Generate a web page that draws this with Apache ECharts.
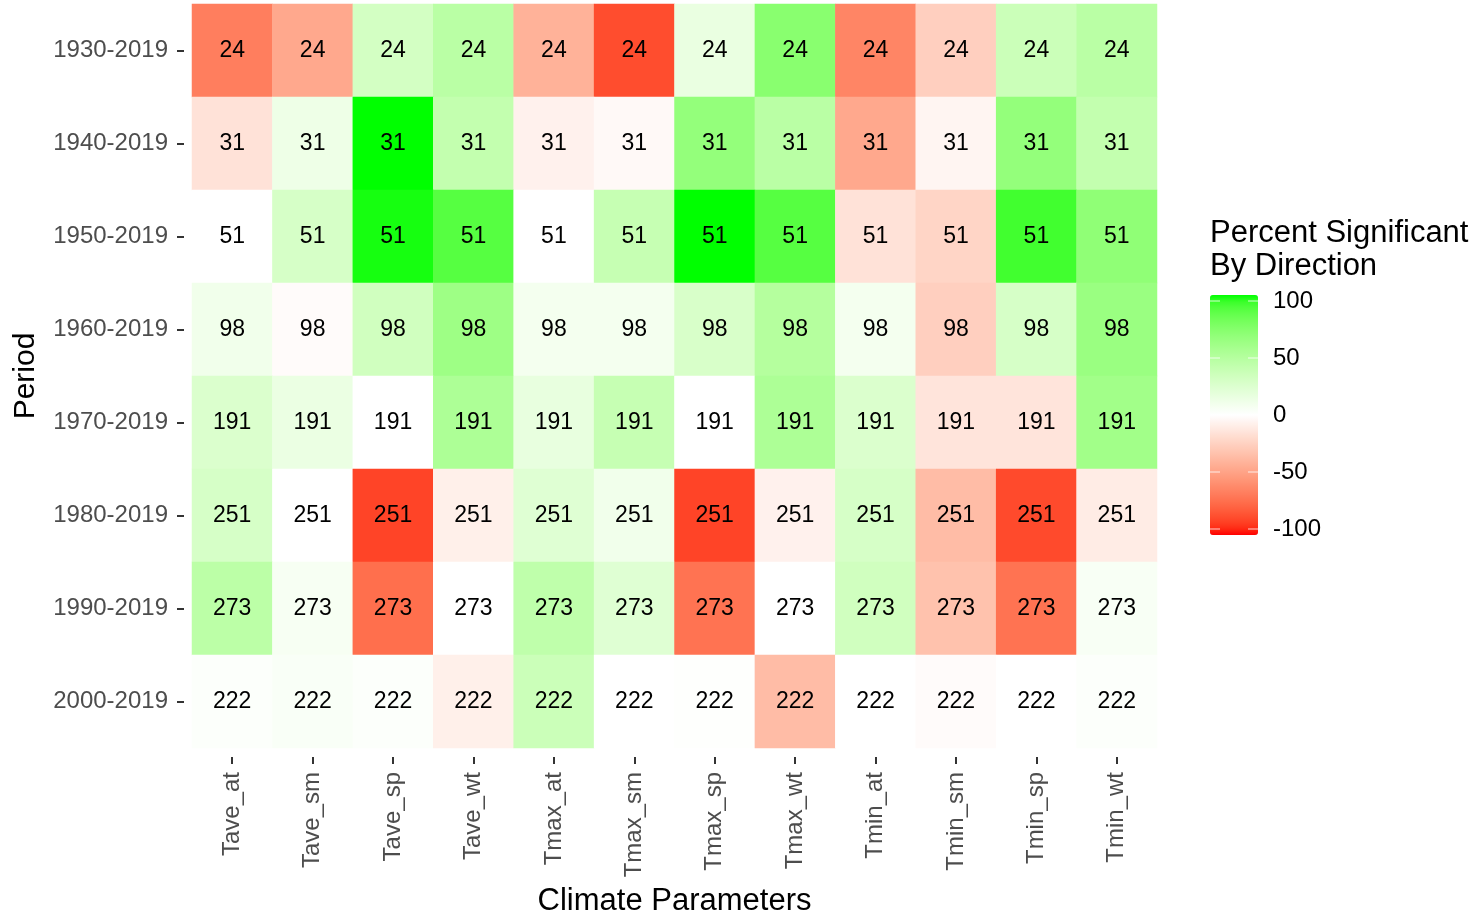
<!DOCTYPE html>
<html>
<head>
<meta charset="utf-8">
<script src="https://cdn.jsdelivr.net/npm/echarts@6/dist/echarts.min.js"></script>
<style>
  html, body { margin: 0; padding: 0; background: #ffffff; }
  #chart { width: 1482px; height: 916px; }
</style>
</head>
<body>
<div id="chart"></div>
<script>
// Climate parameters (columns) and analysis periods (rows)
const parameters = ['Tave_at', 'Tave_sm', 'Tave_sp', 'Tave_wt',
                    'Tmax_at', 'Tmax_sm', 'Tmax_sp', 'Tmax_wt',
                    'Tmin_at', 'Tmin_sm', 'Tmin_sp', 'Tmin_wt'];
const periods = ['1930-2019', '1940-2019', '1950-2019', '1960-2019',
                 '1970-2019', '1980-2019', '1990-2019', '2000-2019'];

// Number of stations available in each period (printed in every cell)
const stationCounts = [24, 31, 51, 98, 191, 251, 273, 222];

// Percent of stations with a significant trend, signed by direction
const pct1930 = [-65, -45, 30, 45, -40, -85, 15, 70, -62, -25, 35, 45];
const pct1940 = [-15, 12, 100, 40, -7, -3, 65, 45, -45, -5, 65, 40];
const pct1950 = [0, 28, 98, 88, 0, 38, 100, 88, -15, -22, 93, 67];
const pct1960 = [10, -2, 32, 60, 8, 8, 27, 48, 8, -25, 28, 62];
const pct1970 = [25, 14, 0, 52, 16, 38, 0, 52, 25, -14, -14, 58];
const pct1980 = [28, 0, -88, -8, 22, 10, -88, -7, 28, -35, -86, -10];
const pct1990 = [44, 6, -72, 0, 42, 22, -70, 0, 32, -32, -70, 5];
const pct2000 = [2, 4, 2, -8, 35, 0, 1, -35, 0, -2, 0, 2];
const percentRows = [pct1930, pct1940, pct1950, pct1960, pct1970, pct1980, pct1990, pct2000];

// Colour bar breaks
const legendBreaks = [100, 50, 0, -50, -100];

// ---- diverging palette: red -> white -> green, interpolated in CIELAB ----
function toLinear(c) { c /= 255; return c <= 0.04045 ? c / 12.92 : Math.pow((c + 0.055) / 1.055, 2.4); }
function fromLinear(c) {
  c = c <= 0.0031308 ? 12.92 * c : 1.055 * Math.pow(c, 1 / 2.4) - 0.055;
  return Math.max(0, Math.min(255, Math.round(c * 255)));
}
function rgbToLab(rgb) {
  const r = toLinear(rgb[0]), g = toLinear(rgb[1]), b = toLinear(rgb[2]);
  const X = (0.4124 * r + 0.3576 * g + 0.1805 * b) / 0.95047;
  const Y = (0.2126 * r + 0.7152 * g + 0.0722 * b);
  const Z = (0.0193 * r + 0.1192 * g + 0.9505 * b) / 1.08883;
  const f = t => t > 0.008856 ? Math.cbrt(t) : 7.787 * t + 16 / 116;
  const fx = f(X), fy = f(Y), fz = f(Z);
  return [116 * fy - 16, 500 * (fx - fy), 200 * (fy - fz)];
}
function labToRgb(lab) {
  const fy = (lab[0] + 16) / 116, fx = fy + lab[1] / 500, fz = fy - lab[2] / 200;
  const inv = t => t * t * t > 0.008856 ? t * t * t : (t - 16 / 116) / 7.787;
  const X = inv(fx) * 0.95047, Y = inv(fy), Z = inv(fz) * 1.08883;
  const r = 3.2406 * X - 1.5372 * Y - 0.4986 * Z;
  const g = -0.9689 * X + 1.8758 * Y + 0.0415 * Z;
  const b = 0.0557 * X - 0.2040 * Y + 1.0570 * Z;
  return 'rgb(' + fromLinear(r) + ',' + fromLinear(g) + ',' + fromLinear(b) + ')';
}
const labLow = rgbToLab([255, 0, 0]);
const labMid = rgbToLab([255, 255, 255]);
const labHigh = rgbToLab([0, 255, 0]);
const palette = [];
for (let v = -100; v <= 100; v += 5) {
  const t = Math.abs(v) / 100;
  const end = v < 0 ? labLow : labHigh;
  palette.push(labToRgb([0, 1, 2].map(i => labMid[i] + t * (end[i] - labMid[i]))));
}

// ---- heatmap data ----
const cells = [];
percentRows.forEach((row, yi) => {
  row.forEach((val, xi) => cells.push([xi, yi, val]));
});

const FONT = '"Liberation Sans", Arial, sans-serif';
const gridBox = { left: 192, top: 4, width: 965, height: 744 };
const legendBox = { left: 1210, top: 295, width: 48, height: 240 };
const legendInset = legendBox.height / 40;

const legendGraphics = [{
  type: 'text',
  left: 1210,
  top: 217,
  style: {
    text: 'Percent Significant\nBy Direction',
    font: '31px ' + FONT,
    fill: '#000000',
    lineHeight: 33
  }
}];
legendBreaks.forEach(v => {
  const y = legendBox.top + legendInset + (100 - v) / 200 * (legendBox.height - 2 * legendInset);
  legendGraphics.push({
    type: 'text',
    x: legendBox.left + legendBox.width + 15,
    y: y,
    style: {
      text: String(v),
      font: '24px ' + FONT,
      fill: '#000000',
      textVerticalAlign: 'middle'
    }
  });
  [legendBox.left, legendBox.left + legendBox.width - 10].forEach(x0 => {
    legendGraphics.push({
      type: 'line',
      z: 100,
      shape: { x1: x0, y1: y, x2: x0 + 10, y2: y },
      style: { stroke: 'rgba(255,255,255,0.8)', lineWidth: 1 }
    });
  });
});

const chart = echarts.init(document.getElementById('chart'), null, { renderer: 'canvas' });
chart.setOption({
  animation: false,
  backgroundColor: '#ffffff',
  grid: Object.assign({ containLabel: false, outerBoundsMode: 'none' }, gridBox),
  xAxis: {
    type: 'category',
    data: parameters,
    offset: 9,
    axisLine: { show: false },
    axisTick: { show: true, alignWithLabel: true, length: 7, lineStyle: { color: '#333333', width: 2 } },
    axisLabel: { rotate: 90, margin: 15, color: '#4d4d4d', fontSize: 24, fontFamily: FONT },
    splitLine: { show: false },
    name: 'Climate Parameters',
    nameLocation: 'middle',
    nameGap: 129,
    nameTextStyle: { color: '#000000', fontSize: 31, fontFamily: FONT }
  },
  yAxis: {
    type: 'category',
    data: periods,
    inverse: true,
    offset: 8,
    axisLine: { show: false },
    axisTick: { show: true, alignWithLabel: true, length: 7, lineStyle: { color: '#333333', width: 2 } },
    axisLabel: { margin: 16, color: '#4d4d4d', fontSize: 24, fontFamily: FONT },
    splitLine: { show: false },
    name: 'Period',
    nameLocation: 'middle',
    nameRotate: 90,
    nameGap: 143,
    nameTextStyle: { color: '#000000', fontSize: 30, fontFamily: FONT }
  },
  visualMap: {
    type: 'continuous',
    min: -100,
    max: 100,
    dimension: 2,
    calculable: false,
    orient: 'vertical',
    left: legendBox.left,
    top: legendBox.top,
    itemWidth: legendBox.width,
    itemHeight: legendBox.height,
    padding: 0,
    text: null,
    showLabel: false,
    inRange: { color: palette }
  },
  graphic: legendGraphics,
  series: [{
    type: 'heatmap',
    data: cells,
    label: {
      show: true,
      color: '#000000',
      fontSize: 23,
      fontFamily: FONT,
      formatter: p => String(stationCounts[p.data[1]])
    },
    emphasis: { disabled: true },
    itemStyle: { borderWidth: 0 }
  }]
});
</script>
</body>
</html>
